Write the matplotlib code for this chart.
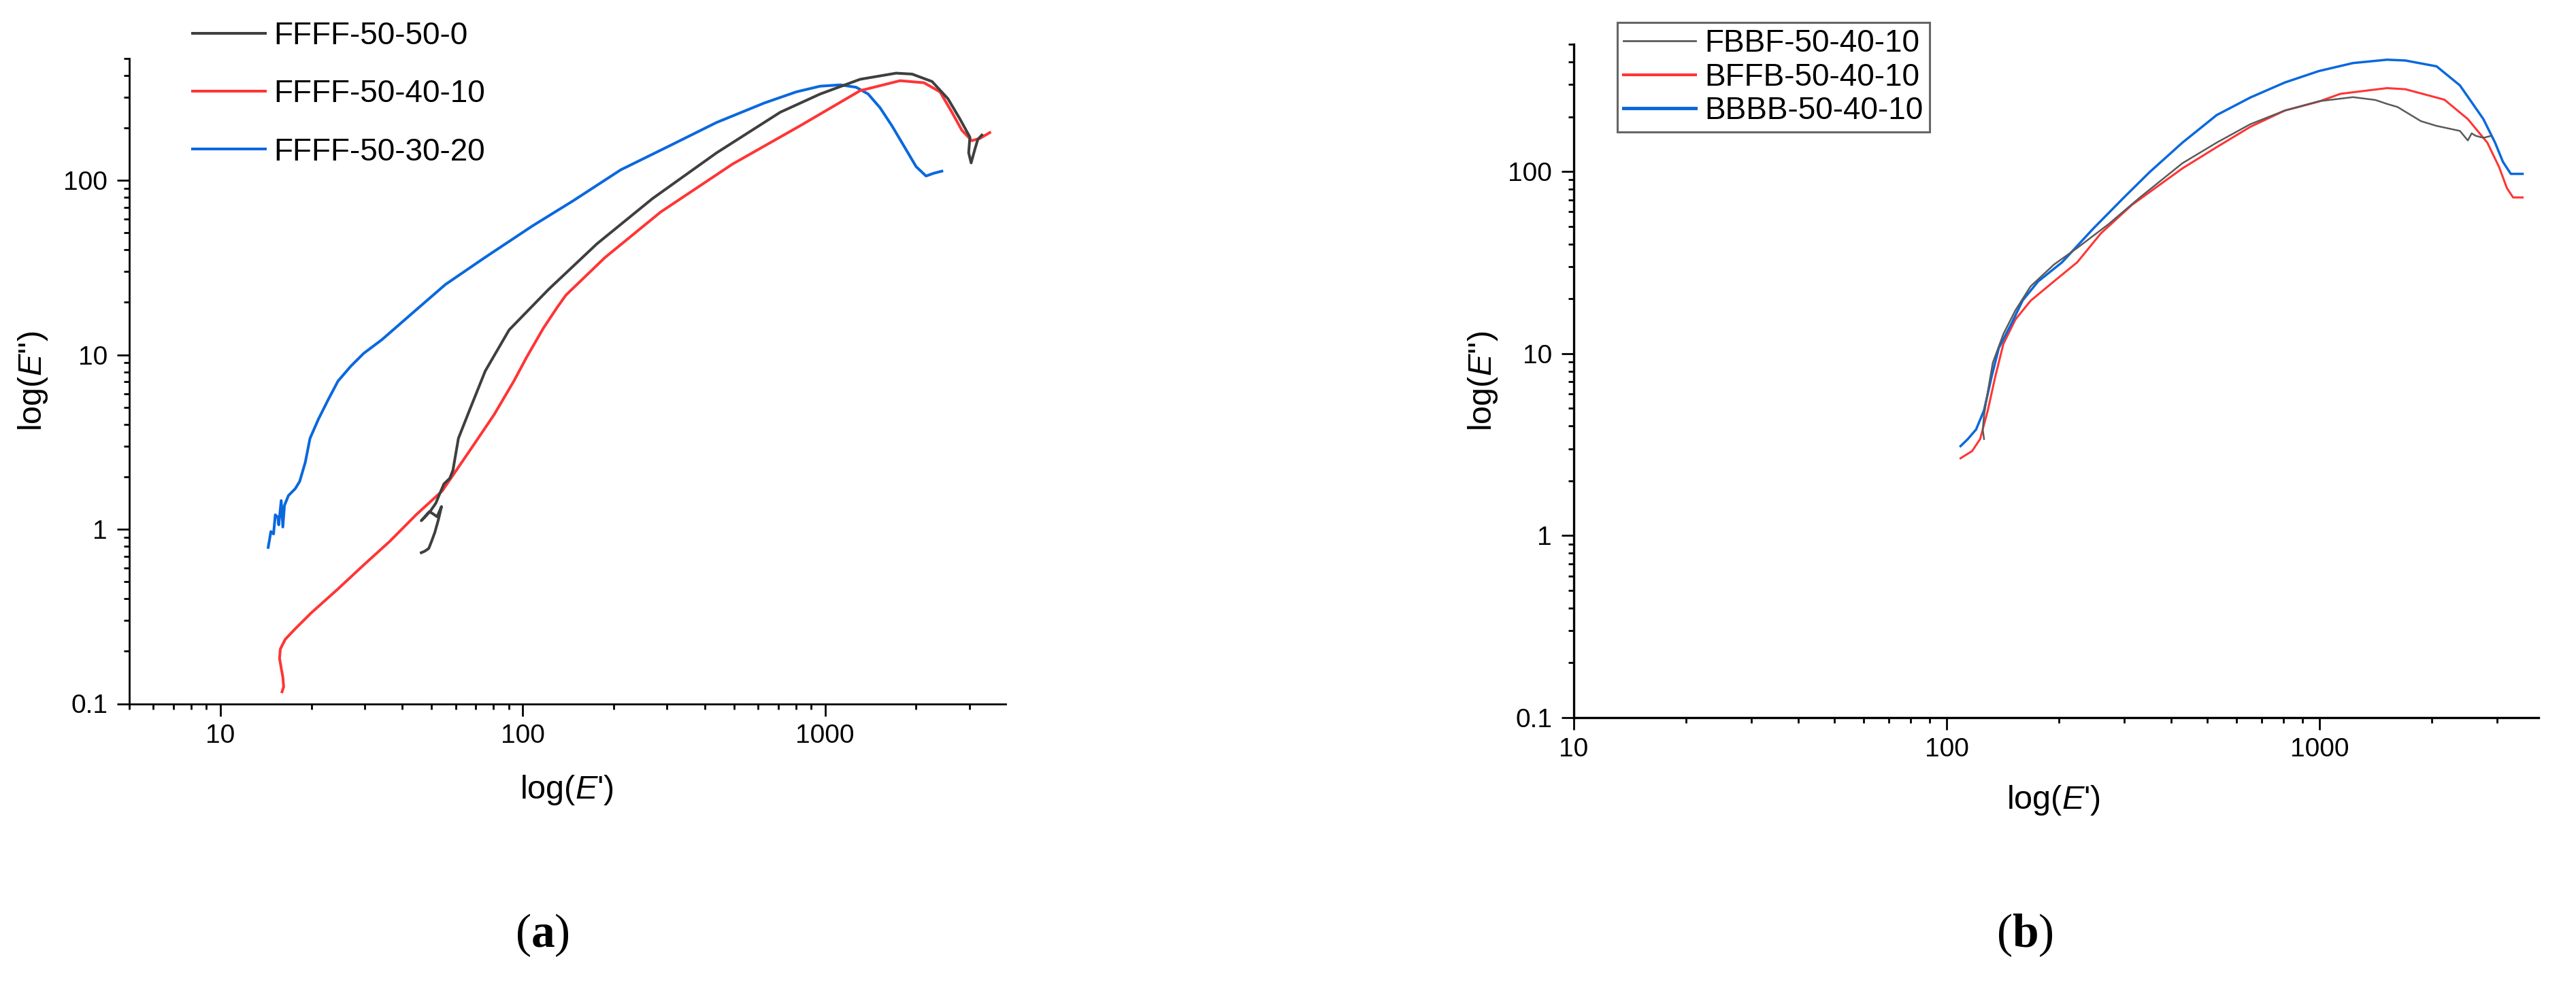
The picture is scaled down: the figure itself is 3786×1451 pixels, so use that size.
import numpy as np
import matplotlib
matplotlib.use('Agg')
import matplotlib.pyplot as plt
from matplotlib.ticker import LogLocator, NullFormatter

plt.rcParams['font.family'] = ['Liberation Sans', 'DejaVu Sans']
plt.rcParams['mathtext.fontset'] = 'custom'
plt.rcParams['mathtext.it'] = 'Liberation Sans:italic'
plt.rcParams['mathtext.rm'] = 'Liberation Sans'
plt.rcParams['mathtext.bf'] = 'Liberation Serif:bold'

# (a) FFFF series, E' vs E''
a_labels = ['FFFF-50-50-0', 'FFFF-50-40-10', 'FFFF-50-30-20']

a0_x = [46.2, 47.4, 48.9, 49.9, 51.2, 52.6, 53.9, 52.1, 50.4, 49.1, 46.2, 49.5, 51.6, 53.5,
        54.9, 57.4, 58.8, 61.3, 66.6, 75.2, 90.2, 122, 176, 269, 438, 711, 964, 1306, 1718,
        1940, 2259, 2549, 2793, 3013, 2985, 3041, 3133, 3201, 3300]
a0_y = [0.734, 0.748, 0.776, 0.848, 0.957, 1.13, 1.35, 1.18, 1.23, 1.26, 1.12, 1.27, 1.41, 1.64,
        1.82, 1.96, 2.18, 3.32, 4.78, 8.08, 13.9, 23.8, 43.3, 78.8, 144, 246, 313, 380, 412,
        407, 369, 294, 225, 177, 144, 126, 152, 172, 182]

a1_x = [16.0, 16.2, 16.1, 15.9, 15.7, 15.8, 16.4, 17.7, 20.0, 24.5, 29.8, 36.4, 44.4, 54.2,
        59.8, 69.4, 80.5, 93.5, 103, 117, 130, 139, 187, 286, 494, 828, 1306, 1770, 2124,
        2399, 2627, 2833, 3055, 3249, 3505]
a1_y = [0.117, 0.125, 0.142, 0.160, 0.182, 0.206, 0.234, 0.269, 0.332, 0.455, 0.624, 0.855,
        1.21, 1.66, 2.13, 3.11, 4.55, 7.07, 9.68, 14.2, 18.7, 22.0, 36.1, 65.9, 124, 206, 327,
        373, 363, 322, 246, 194, 169, 174, 188]

a2_x = [14.4, 14.7, 15.0, 15.2, 15.5, 15.6, 15.9, 16.1, 16.3, 16.8, 17.7, 18.3, 19.1, 19.8,
        21.1, 22.7, 24.5, 27.0, 29.8, 34.2, 43.6, 55.5, 75.1, 108, 147, 211, 304, 438, 630,
        804, 964, 1122, 1267, 1388, 1520, 1666, 1825, 2000, 2157, 2291, 2434]
a2_y = [0.787, 0.97, 0.94, 1.21, 1.17, 1.06, 1.46, 1.03, 1.37, 1.56, 1.71, 1.88, 2.42, 3.32,
        4.27, 5.50, 7.07, 8.6, 10.2, 12.2, 17.6, 25.3, 36.2, 55.0, 76.5, 115, 157, 215, 278,
        322, 347, 353, 342, 313, 261, 205, 157, 120, 106, 110, 113]

# (b) 50-40-10 series
b_labels = ['FBBF-50-40-10', 'BFFB-50-40-10', 'BBBB-50-40-10']

b0_x = [126, 125, 126, 129, 133, 142, 153, 168, 194, 224, 272, 330, 429, 530, 653, 807, 996,
        1230, 1412, 1518, 1620, 1871, 2061, 2381, 2500, 2560, 2624, 2752, 2890]
b0_y = [3.39, 3.83, 4.58, 6.2, 8.9, 12.8, 17.3, 23.4, 30.8, 38.0, 51.4, 72.0, 111, 144, 182,
        216, 243, 256, 247, 235, 226, 189, 178, 167, 148, 162, 157, 153, 157]

b1_x = [109, 117, 123, 129, 135, 142, 153, 168, 194, 224, 259, 314, 429, 530, 653, 807, 996,
        1138, 1518, 1699, 2163, 2500, 2820, 3031, 3183, 3306, 3506]
b1_y = [2.66, 2.91, 3.39, 4.88, 7.44, 11.3, 15.4, 19.5, 24.9, 31.7, 45.6, 65.5, 104, 136, 176,
        216, 242, 267, 287, 283, 248, 194, 144, 106, 81, 72, 72]

b2_x = [109, 114, 120, 126, 132, 138, 149, 160, 176, 204, 247, 299, 350, 429, 530, 653, 807,
        996, 1230, 1518, 1699, 2061, 2381, 2752, 2958, 3105, 3260, 3506]
b2_y = [3.10, 3.39, 3.83, 4.88, 7.44, 10.7, 14.5, 19.6, 24.9, 31.7, 48.4, 72.0, 99.0, 144, 204,
        255, 308, 356, 394, 411, 407, 378, 297, 194, 144, 113, 97, 97]

c_black = '#3f3f3f'
c_grey = '#5a5a5a'
c_red = '#ff3535'
c_blue = '#0a68de'

W, H = 3786, 1451
fig = plt.figure(figsize=(W / 100, H / 100), dpi=100)

ax_a = fig.add_axes([190 / W, 1 - 1034.5 / H, 1288 / W, 948.5 / H])
ax_b = fig.add_axes([2313 / W, 1 - 1055 / H, 1418 / W, 990 / H])


def style_axes(ax, xlim, spine_lw):
    ax.set_xscale('log')
    ax.set_yscale('log')
    ax.set_xlim(*xlim)
    ax.set_ylim(0.1, 500)
    for s in ['top', 'right']:
        ax.spines[s].set_visible(False)
    for s in ['left', 'bottom']:
        ax.spines[s].set_linewidth(spine_lw)
        ax.spines[s].set_color('black')
    ax.set_xticks([10, 100, 1000])
    ax.set_xticklabels(['10', '100', '1000'])
    ax.set_yticks([0.1, 1, 10, 100])
    ax.set_yticklabels(['0.1', '1', '10', '100'])
    for axis in (ax.xaxis, ax.yaxis):
        axis.set_minor_locator(LogLocator(base=10, subs=np.arange(2, 10), numticks=30))
        axis.set_minor_formatter(NullFormatter())
    ax.tick_params(which='major', direction='out', length=13, width=2, labelsize=28)
    ax.tick_params(which='minor', direction='out', length=6, width=2)
    ax.tick_params(axis='x', which='major', pad=8)
    ax.tick_params(axis='y', which='major', pad=10)


# panel (a)
style_axes(ax_a, (5, 3955), 2.0)
l2, = ax_a.plot(a2_x, a2_y, color=c_blue, lw=2.9, label=a_labels[2])
l1, = ax_a.plot(a1_x, a1_y, color=c_red, lw=2.9, label=a_labels[1])
l0, = ax_a.plot(a0_x, a0_y, color=c_black, lw=2.9, label=a_labels[0])
ax_a.set_xlabel(r"log($\mathit{E}$')", fontsize=35)
ax_a.set_ylabel(r"log($\mathit{E}$'')", fontsize=35)
ax_a.xaxis.set_label_coords(0.499, -0.134)
ax_a.xaxis.label.set_va('center')
ax_a.yaxis.set_label_coords(-0.110, 0.5)
ax_a.yaxis.label.set_va('center')
ax_a.legend(handles=[l0, l1, l2], loc='upper left', bbox_to_anchor=(283 / W, 1 - 31 / H),
            bbox_transform=fig.transFigure, frameon=False, fontsize=33, borderpad=0,
            borderaxespad=0, handlelength=2.33, handletextpad=0.28, labelspacing=0.9)

# panel (b)
style_axes(ax_b, (10, 3870), 2.4)
m1, = ax_b.plot(b1_x, b1_y, color=c_red, lw=2.2, label=b_labels[1])
m2, = ax_b.plot(b2_x, b2_y, color=c_blue, lw=2.5, label=b_labels[2])
m0, = ax_b.plot(b0_x, b0_y, color=c_grey, lw=1.8, label=b_labels[0])
ax_b.set_xlabel(r"log($\mathit{E}$')", fontsize=35)
ax_b.set_ylabel(r"log($\mathit{E}$'')", fontsize=35)
ax_b.xaxis.set_label_coords(0.497, -0.123)
ax_b.xaxis.label.set_va('center')
ax_b.yaxis.set_label_coords(-0.094, 0.5)
ax_b.yaxis.label.set_va('center')
leg = ax_b.legend(handles=[m0, m1, m2], loc='upper left', bbox_to_anchor=(2377 / W, 1 - 33 / H),
                  bbox_transform=fig.transFigure, frameon=True, fancybox=False, fontsize=33,
                  borderpad=0.2, borderaxespad=0, handlelength=2.3, handletextpad=0.3,
                  labelspacing=0.12)
leg.get_frame().set_edgecolor('#404040')
leg.get_frame().set_linewidth(2.2)
for ln, w in zip(leg.get_lines(), [2.0, 3.0, 3.6]):
    ln.set_linewidth(w)

fig.text(797 / W, 1 - 1375 / H, r'($\mathbf{a}$)', family='Liberation Serif', fontsize=50,
         ha='center', va='center')
fig.text(2976 / W, 1 - 1375 / H, r'($\mathbf{b}$)', family='Liberation Serif', fontsize=50,
         ha='center', va='center')

fig.savefig('out.png', dpi=100)
plt.close(fig)
